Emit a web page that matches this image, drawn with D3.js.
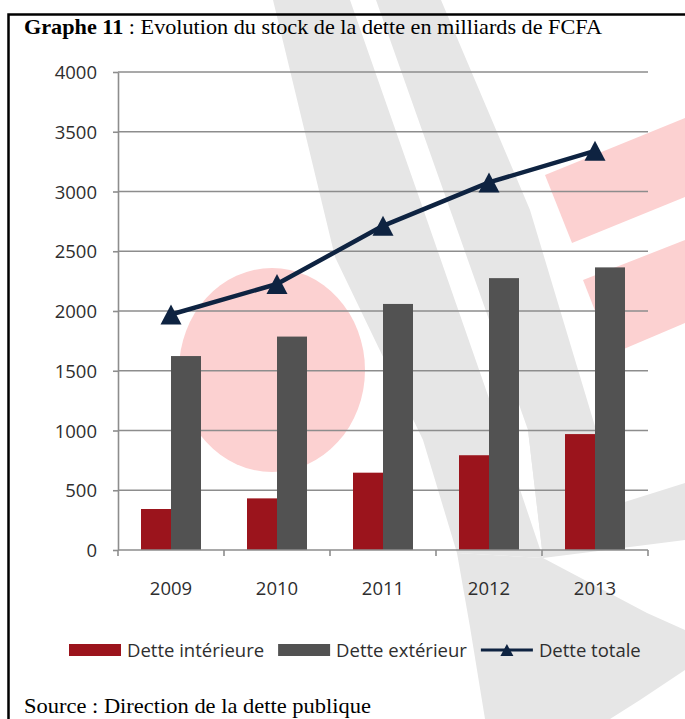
<!DOCTYPE html>
<html>
<head>
<meta charset="utf-8">
<script src="https://cdn.jsdelivr.net/npm/d3@7"></script>
<style>
  body { margin: 0; background: #fff; }
  svg { display: block; }
</style>
</head>
<body>
<div id="chart"></div>
<script>
// data (milliards de FCFA)
const years = ["2009", "2010", "2011", "2012", "2013"];
const detteInterieure = [343, 432, 647, 793, 970];
const detteExterieur = [1623, 1786, 2059, 2275, 2365];
const detteTotale = [1971, 2226, 2713, 3076, 3340];
const yTicks = [0, 500, 1000, 1500, 2000, 2500, 3000, 3500, 4000];
const seriesNames = ["Dette intérieure", "Dette extérieur", "Dette totale"];

const colors = { interieure: "#9b141c", exterieur: "#525252", totale: "#0e2341" };
const gridColor = "#8d8d8d";
const labelFont = "'Open Sans', sans-serif";
const serifFont = "'Liberation Serif', serif";

const svgWidth = 685, svgHeight = 719;
const plot = { left: 118, right: 648, top: 72, bottom: 550 };

const svg = d3.select("#chart").append("svg")
  .attr("width", svgWidth)
  .attr("height", svgHeight);

// faded logo watermark behind the chart
const watermark = svg.append("g").attr("class", "watermark");
const greyShapes = [
  [[273, 0], [350, 0], [420, 200], [500, 430], [543, 558], [457, 553], [423, 440], [335, 257]],
  [[376, 0], [441, 0], [530, 210], [597, 433], [615, 505], [543, 558], [528, 430]],
  [[597, 433], [615, 505], [685, 483], [685, 540], [543, 558], [528, 430]],
  [[457, 553], [543, 558], [647, 613], [685, 630], [685, 670], [640, 700], [610, 719], [485, 719], [470, 627]]
];
const pinkShapes = [
  [[545, 175], [685, 118], [685, 197], [572, 243]],
  [[583, 280], [685, 240], [685, 323], [612, 354]]
];
watermark.selectAll(".wm-grey")
  .data(greyShapes)
  .enter().append("polygon")
  .attr("class", "wm-grey")
  .attr("points", d => d.map(p => p.join(",")).join(" "))
  .attr("fill", "#e6e6e6");
watermark.selectAll(".wm-pink")
  .data(pinkShapes)
  .enter().append("polygon")
  .attr("class", "wm-pink")
  .attr("points", d => d.map(p => p.join(",")).join(" "))
  .attr("fill", "#fcd1d1");
watermark.append("ellipse")
  .attr("cx", 272).attr("cy", 370)
  .attr("rx", 93).attr("ry", 102)
  .attr("fill", "#fcd1d1");

// frame (left and top rule)
svg.append("path")
  .attr("d", "M8.5,719 V14.5 H685")
  .attr("fill", "none")
  .attr("stroke", "#000")
  .attr("stroke-width", 2.5);

// scales
const x0 = d3.scaleBand()
  .domain(years)
  .range([plot.left, plot.right]);
const x1 = d3.scaleBand()
  .domain(["interieure", "exterieur"])
  .range([0, x0.bandwidth()])
  .paddingOuter(0.767);
const y = d3.scaleLinear()
  .domain([0, 4000])
  .range([plot.bottom, plot.top]);

// gridlines
svg.append("g")
  .selectAll("line")
  .data(yTicks.filter(t => t > 0))
  .enter().append("line")
  .attr("x1", plot.left).attr("x2", plot.right)
  .attr("y1", d => y(d)).attr("y2", d => y(d))
  .attr("stroke", gridColor)
  .attr("stroke-width", 1.6);

// y axis
const yAxis = svg.append("g")
  .attr("transform", "translate(" + plot.left + ",0)")
  .call(d3.axisLeft(y).tickValues(yTicks).tickFormat(d3.format("d"))
    .tickSize(5).tickPadding(16).tickSizeOuter(0));
yAxis.select(".domain").attr("stroke", gridColor).attr("stroke-width", 1.6);
yAxis.selectAll(".tick line").attr("stroke", gridColor).attr("stroke-width", 1.6);
yAxis.selectAll(".tick text")
  .attr("fill", "#2e2e2e")
  .attr("dy", "0.36em")
  .style("font-family", labelFont)
  .style("font-size", "18.5px");

// bars
const bars = svg.append("g").selectAll("g")
  .data(years)
  .enter().append("g")
  .attr("transform", d => "translate(" + x0(d) + ",0)");
bars.append("rect")
  .attr("x", x1("interieure"))
  .attr("width", x1.bandwidth())
  .attr("y", (d, i) => y(detteInterieure[i]))
  .attr("height", (d, i) => y(0) - y(detteInterieure[i]))
  .attr("fill", colors.interieure);
bars.append("rect")
  .attr("x", x1("exterieur"))
  .attr("width", x1.bandwidth())
  .attr("y", (d, i) => y(detteExterieur[i]))
  .attr("height", (d, i) => y(0) - y(detteExterieur[i]))
  .attr("fill", colors.exterieur);

// x axis: ticks between categories
const xAxis = svg.append("g")
  .attr("transform", "translate(0," + plot.bottom + ")");
xAxis.append("line")
  .attr("x1", plot.left).attr("x2", plot.right)
  .attr("stroke", gridColor).attr("stroke-width", 1.6);
xAxis.selectAll(".xtick")
  .data(years.concat(["end"]))
  .enter().append("line")
  .attr("class", "xtick")
  .attr("x1", (d, i) => i < years.length ? x0(d) : plot.right)
  .attr("x2", (d, i) => i < years.length ? x0(d) : plot.right)
  .attr("y1", 0).attr("y2", 6)
  .attr("stroke", gridColor).attr("stroke-width", 1.6);
xAxis.selectAll(".xlabel")
  .data(years)
  .enter().append("text")
  .attr("class", "xlabel")
  .attr("x", d => x0(d) + x0.bandwidth() / 2)
  .attr("y", 45)
  .attr("text-anchor", "middle")
  .attr("fill", "#2e2e2e")
  .style("font-family", labelFont)
  .style("font-size", "18.5px")
  .text(d => d);

// total line with triangle markers
const triangle = (cx, cy, w, h) =>
  "M" + (cx - w / 2) + "," + (cy + h / 2) + "L" + (cx + w / 2) + "," + (cy + h / 2) + "L" + cx + "," + (cy - h / 2) + "Z";
const lineGen = d3.line()
  .x((d, i) => x0(years[i]) + x0.bandwidth() / 2)
  .y(d => y(d));
svg.append("path")
  .datum(detteTotale)
  .attr("d", lineGen)
  .attr("fill", "none")
  .attr("stroke", colors.totale)
  .attr("stroke-width", 4.5)
  .attr("stroke-linejoin", "round");
svg.append("g").selectAll("path")
  .data(detteTotale)
  .enter().append("path")
  .attr("d", (d, i) => triangle(x0(years[i]) + x0.bandwidth() / 2, y(d), 21, 20))
  .attr("fill", colors.totale);

// title
const title = svg.append("text")
  .attr("x", 24)
  .attr("y", 34)
  .attr("fill", "#000")
  .style("font-family", serifFont)
  .style("font-size", "21px");
title.append("tspan").attr("font-weight", "bold").text("Graphe 11");
title.append("tspan").text(" : Evolution du stock de la dette en milliards de FCFA");
title.attr("textLength", 578).attr("lengthAdjust", "spacingAndGlyphs");

// legend
const legend = svg.append("g").attr("transform", "translate(0,650)");
let lx = 69;
seriesNames.forEach(function (name, i) {
  if (i < 2) {
    legend.append("rect")
      .attr("x", lx).attr("y", -6)
      .attr("width", 52).attr("height", 12)
      .attr("fill", i === 0 ? colors.interieure : colors.exterieur);
  } else {
    legend.append("line")
      .attr("x1", lx).attr("x2", lx + 52)
      .attr("stroke", colors.totale).attr("stroke-width", 3);
    legend.append("path")
      .attr("d", triangle(lx + 26, 0, 13, 12))
      .attr("fill", colors.totale);
  }
  const t = legend.append("text")
    .attr("x", lx + 58)
    .attr("y", 6.5)
    .attr("fill", "#2e2e2e")
    .style("font-family", labelFont)
    .style("font-size", "18.5px")
    .text(name);
  lx += 58 + t.node().getComputedTextLength() + 14;
});

// source
svg.append("text")
  .attr("x", 24)
  .attr("y", 713)
  .attr("fill", "#000")
  .style("font-family", serifFont)
  .style("font-size", "21px")
  .attr("textLength", 347)
  .attr("lengthAdjust", "spacingAndGlyphs")
  .text("Source : Direction de la dette publique");
</script>
</body>
</html>
